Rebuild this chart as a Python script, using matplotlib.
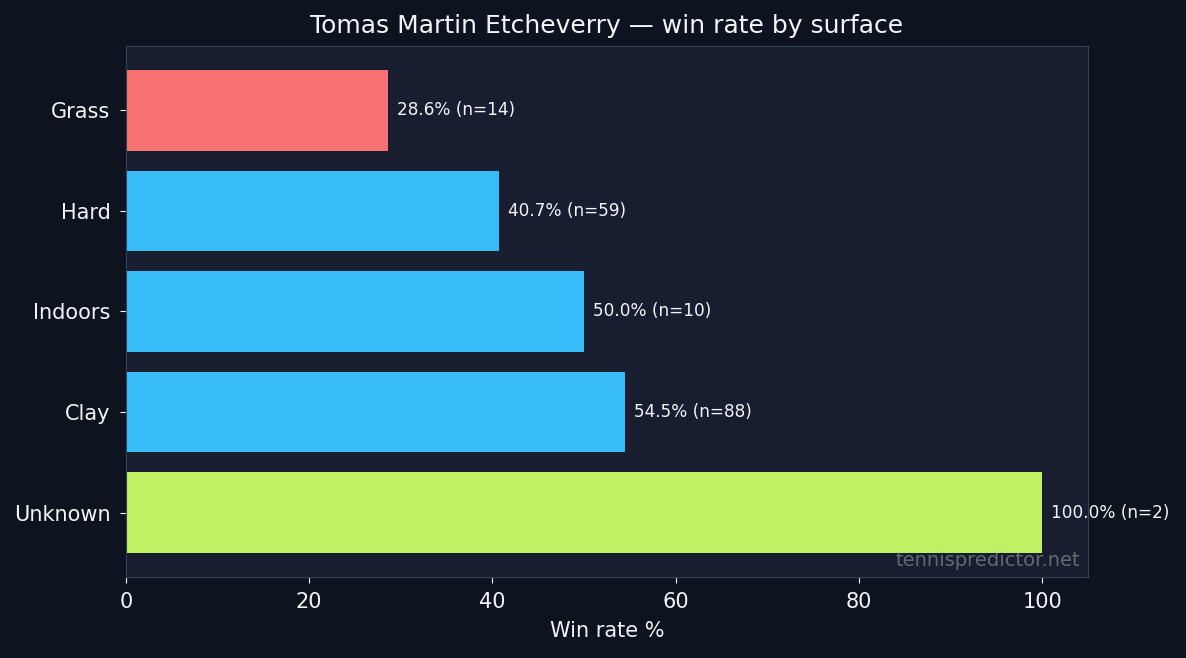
import matplotlib
matplotlib.use("Agg")
import matplotlib.pyplot as plt

# Data
surfaces = ["Unknown", "Clay", "Indoors", "Hard", "Grass"]
win_rates = [100.0, 54.5, 50.0, 40.7, 28.6]
matches = [2, 88, 10, 59, 14]
bar_colors = ["#bef264", "#38bdf8", "#38bdf8", "#38bdf8", "#f87171"]

FIG_BG = "#0e1320"
AX_BG = "#181d2f"
SPINE = "#334155"
TEXT = "#f1f5f9"

fig, ax = plt.subplots(figsize=(11.86, 6.58), dpi=100)
fig.patch.set_facecolor(FIG_BG)
ax.set_facecolor(AX_BG)
fig.subplots_adjust(left=0.1062, right=0.9174, top=0.9301, bottom=0.1231)

ax.barh(surfaces, win_rates, color=bar_colors, height=0.8)

# Value labels next to each bar
for i, (rate, n) in enumerate(zip(win_rates, matches)):
    ax.text(rate + 1, i, f"{rate:.1f}% (n={n})", va="center", ha="left",
            color=TEXT, fontsize=12.2)

ax.set_xlim(0, 105)
ax.set_xlabel("Win rate %", color=TEXT, fontsize=15, labelpad=6.5)
ax.set_title("Tomas Martin Etcheverry \u2014 win rate by surface", color=TEXT,
             fontsize=18, pad=9.5)

ax.tick_params(colors=TEXT, labelsize=15, length=4.2)
ax.tick_params(axis="y", pad=7)
ax.tick_params(axis="x", pad=6.5)
for spine in ax.spines.values():
    spine.set_color(SPINE)

ax.text(0.992, 0.013, "tennispredictor.net", transform=ax.transAxes,
        ha="right", va="bottom", color="#a3a7b0", alpha=0.55, fontsize=14)

fig.savefig("out.png", dpi=100, facecolor=FIG_BG)
